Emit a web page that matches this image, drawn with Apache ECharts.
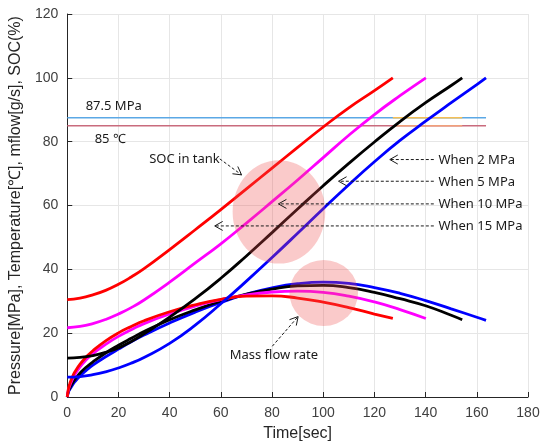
<!DOCTYPE html>
<html>
<head>
<meta charset="utf-8">
<script src="https://cdn.jsdelivr.net/npm/echarts@6/dist/echarts.min.js"></script>
<style>
  html, body { margin: 0; padding: 0; background: #fff; }
  #main { width: 549px; height: 447px; }
</style>
</head>
<body>
<div id="main"></div>
<script>
// SOC in tank (%) : [time, value]
const soc15 = [[0, 30.5], [5, 31], [10, 32], [15, 33.4], [20, 35.3], [25, 37.6], [30, 40.2], [40, 46.2], [50, 52.4], [60, 58.7], [70, 65.2], [80, 71.7], [90, 78.2], [100, 84.6], [110, 90.6], [120, 96], [127.2, 100]];
const soc10 = [[0, 21.7], [5, 22.1], [10, 23], [15, 24.3], [20, 26], [25, 28], [30, 30.4], [40, 36], [50, 42], [60, 48], [70, 54.5], [80, 61.2], [90, 68], [100, 75], [110, 82], [120, 88.5], [130, 94.4], [140.1, 100]];
const soc5 = [[0, 12.2], [5, 12.4], [10, 13], [15, 14], [20, 15.4], [25, 17.4], [30, 19.8], [40, 25], [50, 30.8], [60, 37.2], [70, 44.2], [80, 51.5], [90, 58.9], [100, 66.2], [110, 73.2], [120, 79.9], [130, 86.3], [140, 92.2], [150, 97.6], [154.3, 100]];
const soc2 = [[0, 6.2], [5, 6.4], [10, 7], [15, 7.9], [20, 9.1], [25, 10.6], [30, 12.4], [40, 16.8], [50, 22.5], [60, 29.2], [70, 36.3], [80, 43.7], [90, 51.3], [100, 59], [110, 66.5], [120, 73.7], [130, 80.4], [140, 86.4], [150, 92.2], [160, 97.9], [163.6, 100]];

// mass flow rate (g/s) : [time, value]
const flow15 = [[0, 0], [0.5, 2.8], [1, 4.2], [2, 6.3], [3, 7.9], [5, 10.3], [7.5, 12.6], [10, 14.5], [15, 17.6], [20, 20.1], [25, 22.1], [30, 23.9], [40, 26.7], [50, 28.9], [60, 30.6], [70, 31.6], [80, 31.7], [90, 31], [100, 29.7], [110, 28], [120, 26], [127.2, 24.6]];
const flow10 = [[0, 0], [0.5, 2.4], [1, 3.6], [2, 5.5], [3, 7], [5, 9.4], [7.5, 11.7], [10, 13.6], [15, 16.5], [20, 19], [25, 21.1], [30, 23], [40, 26], [50, 28.5], [60, 30.5], [70, 32], [80, 32.9], [90, 33.2], [100, 32.8], [110, 31.6], [120, 29.8], [130, 27.4], [140.1, 24.6]];
const flow5 = [[0, 0], [0.5, 1.9], [1, 2.8], [2, 4.3], [3, 5.5], [5, 7.5], [7.5, 9.4], [10, 11], [15, 13.8], [20, 16.2], [25, 18.4], [30, 20.5], [40, 24.2], [50, 27.3], [60, 30], [70, 32.2], [80, 33.8], [90, 34.8], [100, 35], [110, 34.3], [120, 32.8], [130, 30.8], [140, 28.6], [150, 25.6], [154.3, 24.2]];
const flow2 = [[0, 0], [0.5, 1.6], [1, 2.4], [2, 3.7], [3, 4.8], [5, 6.6], [7.5, 8.4], [10, 10], [15, 12.6], [20, 15], [25, 17.3], [30, 19.4], [40, 23.2], [50, 26.6], [60, 29.6], [70, 32.2], [80, 34.2], [90, 35.5], [100, 36], [110, 35.6], [120, 34.3], [130, 32.5], [140, 30.2], [150, 27.6], [160, 25], [163.6, 24]];

// limit lines
const pressLimit = [[0, 87.5], [163.6, 87.5]];
const pressLimitMid = [[127.2, 87.5], [154.3, 87.5]];
const tempLimit = [[0, 85], [163.6, 85]];
const tempLimitMid = [[127.2, 85], [154.3, 85]];

const xTicks = { min: 0, max: 180, step: 20 };
const yTicks = { min: 0, max: 120, step: 20 };

const chart = echarts.init(document.getElementById('main'));

const AXIS_FONT = "'Liberation Sans', Arial, sans-serif";
const NOTE_FONT = "'Noto Sans', 'Noto Sans CJK KR', sans-serif";

function lineSeries(data, color, width, smooth) {
  return {
    type: 'line',
    data: data,
    showSymbol: false,
    smooth: smooth ? 0.5 : false,
    lineStyle: { color: color, width: width },
    silent: true,
    animation: false
  };
}

function axisCommon(range, name, gap, rotate) {
  return {
    type: 'value',
    min: range.min,
    max: range.max,
    interval: range.step,
    name: name,
    nameLocation: 'middle',
    nameGap: gap,
    nameRotate: rotate,
    nameTextStyle: { color: '#262626', fontSize: 16, fontFamily: AXIS_FONT },
    axisLine: { show: true, lineStyle: { color: '#262626', width: 1 } },
    axisTick: { show: true, inside: true, length: 5, lineStyle: { color: '#262626' } },
    axisLabel: { color: '#404040', fontSize: 14, fontFamily: AXIS_FONT, margin: 9 },
    splitLine: { show: true, lineStyle: { color: '#e6e6e6', width: 1 } }
  };
}

chart.setOption({
  backgroundColor: '#fff',
  animation: false,
  grid: { left: 63, right: 21, top: 14, bottom: 47 },
  xAxis: axisCommon(xTicks, 'Time[sec]', 29, 0),
  yAxis: axisCommon(yTicks, 'Pressure[MPa], Temperature[℃], mflow[g/s], SOC(%)', 31, 90),
  series: [
    lineSeries(pressLimit, '#5ba8e5', 1.4, false),
    lineSeries(pressLimitMid, '#f5bf55', 1.6, false),
    lineSeries(tempLimit, '#c96b7d', 1.4, false),
    lineSeries(tempLimitMid, '#f0a07a', 1.6, false),
    lineSeries(flow2, '#0000ff', 2.8, true),
    lineSeries(flow5, '#000000', 2.8, true),
    lineSeries(flow10, '#ff00ff', 2.8, true),
    lineSeries(flow15, '#ff0000', 2.8, true),
    lineSeries(soc2, '#0000ff', 2.8, true),
    lineSeries(soc5, '#000000', 2.8, true),
    lineSeries(soc10, '#ff00ff', 2.8, true),
    lineSeries(soc15, '#ff0000', 2.8, true)
  ]
});

// annotations, placed in data units
function px(p) {
  return chart.convertToPixel({ xAxisIndex: 0, yAxisIndex: 0 }, p);
}

function text(p, str, align) {
  const q = px(p);
  return {
    type: 'text', x: q[0], y: q[1], z: 20,
    style: { text: str, fill: '#1a1a1a', font: '13px ' + NOTE_FONT, textAlign: align || 'left', textVerticalAlign: 'middle' }
  };
}

function arrow(from, to) {
  const a = px(from), b = px(to);
  const dx = b[0] - a[0], dy = b[1] - a[1];
  const len = Math.sqrt(dx * dx + dy * dy);
  const ux = dx / len, uy = dy / len;
  const hl = 8, hw = 4.5;
  const w1 = [b[0] - ux * hl - uy * hw, b[1] - uy * hl + ux * hw];
  const w2 = [b[0] - ux * hl + uy * hw, b[1] - uy * hl - ux * hw];
  return [
    { type: 'line', z: 20, shape: { x1: a[0], y1: a[1], x2: b[0], y2: b[1] },
      style: { stroke: '#1a1a1a', lineWidth: 1, lineDash: [3, 2] } },
    { type: 'polyline', z: 20, shape: { points: [w1, b, w2] },
      style: { stroke: '#1a1a1a', lineWidth: 1, fill: null } }
  ];
}

function blob(center, rx, ry) {
  const c = px(center);
  const e = px([center[0] + rx, center[1] + ry]);
  const rpx = Math.abs(e[0] - c[0]);
  const rpy = Math.abs(e[1] - c[1]);
  return {
    type: 'circle', x: c[0], y: c[1], z: 15,
    scaleX: rpx / rpy, scaleY: 1,
    shape: { cx: 0, cy: 0, r: rpy },
    style: { fill: 'rgba(240,80,80,0.3)' }
  };
}

const graphics = [
  blob([82.7, 58], 18.1, 16.2),
  blob([100.2, 32.6], 13.4, 10.35),
  text([7.2, 91.2], '87.5 MPa'),
  text([10.7, 80.8], '85 ℃'),
  text([32, 74.6], 'SOC in tank'),
  text([80.7, 13], 'Mass flow rate', 'center'),
  text([145, 74.2], 'When 2 MPa'),
  text([145, 67.4], 'When 5 MPa'),
  text([145, 60.3], 'When 10 MPa'),
  text([145, 53.4], 'When 15 MPa')
]
  .concat(arrow([59.6, 74.6], [68.1, 69.6]))
  .concat(arrow([80.1, 15.9], [90.2, 25.2]))
  .concat(arrow([143.2, 74.4], [126, 74.4]))
  .concat(arrow([143.2, 67.6], [106, 67.6]))
  .concat(arrow([143.2, 60.5], [82.5, 60.5]))
  .concat(arrow([143.2, 53.6], [57.6, 53.6]));

chart.setOption({ graphic: graphics });
</script>
</body>
</html>
